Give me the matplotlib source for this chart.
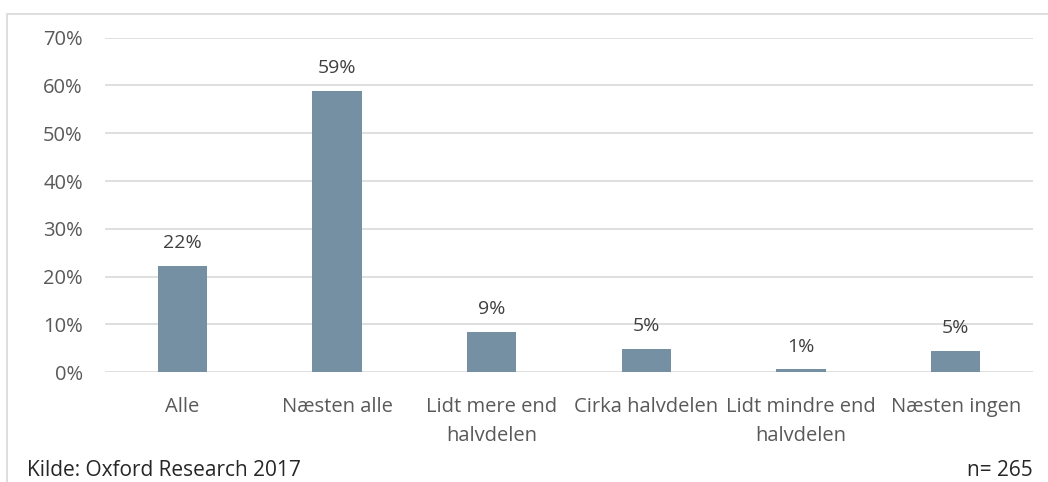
import matplotlib
matplotlib.use("Agg")
import matplotlib.pyplot as plt
from matplotlib.patches import Rectangle
from matplotlib.ticker import PercentFormatter

categories = ["Alle", "Næsten alle", "Lidt mere end\nhalvdelen", "Cirka halvdelen",
              "Lidt mindre end\nhalvdelen", "Næsten ingen"]
values = [22.3, 58.9, 8.5, 4.8, 0.6, 4.4]
labels = ["22%", "59%", "9%", "5%", "1%", "5%"]
yticks = [0, 10, 20, 30, 40, 50, 60, 70]

bar_color = "#7590a2"
text_color = "#595959"
grid_color = "#d9d9d9"

plt.rcParams['font.family'] = ['Open Sans', 'DejaVu Sans']

fig = plt.figure(figsize=(10.48, 4.82), dpi=100)
ax = fig.add_axes([0.1002, 0.2276, 0.8855, 0.6942])

x = range(len(categories))
ax.bar(x, values, width=0.32, color=bar_color, zorder=3)
for xi, v, lab in zip(x, values, labels):
    ax.annotate(lab, (xi, v), xytext=(0, 10), textcoords='offset points',
                ha='center', va='bottom', fontsize=14, color="#404040")

ax.set_xlim(-0.5, len(categories) - 0.5)
ax.set_ylim(0, 70)
ax.set_yticks(yticks)
ax.yaxis.set_major_formatter(PercentFormatter(decimals=0))
ax.set_xticks(list(x))
ax.set_xticklabels(categories, fontsize=14.5, color=text_color, linespacing=1.6)
ax.tick_params(axis='y', labelsize=14.5, labelcolor=text_color, length=0, pad=16)
ax.tick_params(axis='x', length=0, pad=18)
ax.grid(axis='y', color=grid_color, linewidth=1.2, zorder=0)
for s in ax.spines.values():
    s.set_visible(False)

# outer frame of the chart
fig.patches.append(Rectangle((7 / 1048, -0.1), 1.1, 0.1 + 1 - 14 / 482,
                             transform=fig.transFigure, fill=False,
                             edgecolor=grid_color, linewidth=1.2))

fig.text(27 / 1048, 1 - 470 / 482, "Kilde: Oxford Research 2017", fontsize=15,
         color="#262626", va='center', ha='left')
fig.text(1033 / 1048, 1 - 470 / 482, "n= 265", fontsize=15,
         color="#262626", va='center', ha='right')

fig.savefig("out.png", dpi=100)
